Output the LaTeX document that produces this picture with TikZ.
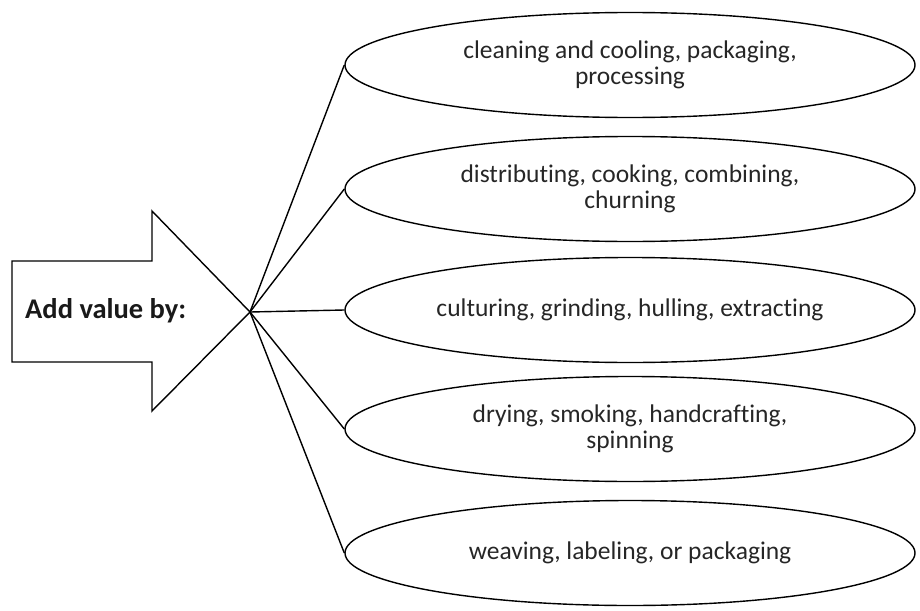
\documentclass[tikz,border=0pt]{standalone}
\usepackage{fontspec}
\setmainfont{Carlito}[RawFeature=-liga]
\usetikzlibrary{shapes.geometric}
\begin{document}
\begin{tikzpicture}[x=1pt,y=-1pt,
  oval/.style={draw=black, line width=1.4pt, ellipse, minimum width=570pt, minimum height=105pt, inner sep=0pt, align=center, font=\fontsize{25.5}{25.5}\selectfont, text=black!85},
  link/.style={draw=black, line width=1.4pt},
  arrowshape/.style={draw=black, line width=1.4pt, line join=miter}]
\useasboundingbox (0,0) rectangle (920,610);
% block arrow
\draw[arrowshape] (12,261) -- (152,261) -- (152,211) -- (250,312) -- (152,411) -- (152,362) -- (12,362) -- cycle;
\coordinate (tip) at (250,312);
\node[font=\bfseries\fontsize{28.5}{30}\selectfont, anchor=base west, inner sep=0pt, text=black!90] (lbl) at (25,318) {Add value by:};
% ellipses
\node[oval] (e1) at (630,65) {cleaning and cooling, packaging,\\processing};
\node[oval] (e2) at (630,189) {distributing, cooking, combining,\\churning};
\node[oval] (e3) at (630,310) {culturing, grinding, hulling, extracting};
\node[oval] (e4) at (630,429) {drying, smoking, handcrafting,\\spinning};
\node[oval] (e5) at (630,553) {weaving, labeling, or packaging};
% connectors
\foreach \e in {e1,e2,e3,e4,e5} \draw[link] (tip) -- (\e.west);
\end{tikzpicture}
\end{document}
